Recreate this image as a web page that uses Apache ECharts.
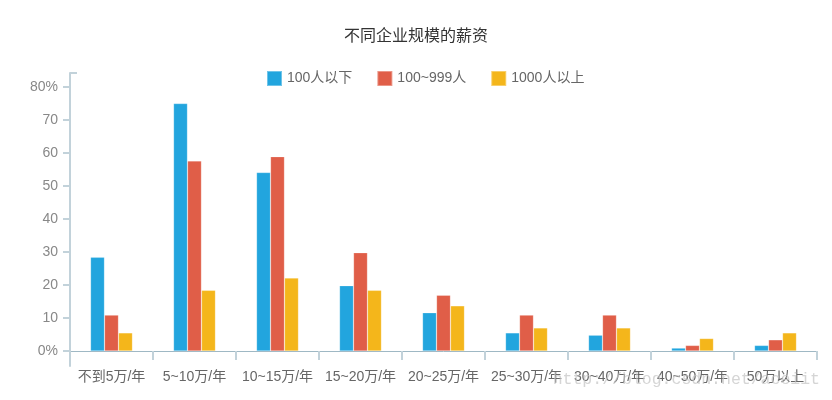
<!DOCTYPE html>
<html>
<head>
<meta charset="utf-8">
<script src="https://cdn.jsdelivr.net/npm/echarts@6/dist/echarts.min.js"></script>
<style>html,body{margin:0;padding:0;background:#fff}#c{width:832px;height:400px}</style>
</head>
<body>
<div id="c"></div>
<script>
var categories = ['不到5万/年','5~10万/年','10~15万/年','15~20万/年','20~25万/年','25~30万/年','30~40万/年','40~50万/年','50万以上'];
var seriesNames = ['100人以下','100~999人','1000人以上'];
var small = [28.4, 75, 54.1, 19.8, 11.6, 5.5, 4.8, 0.9, 1.7];
var medium = [10.9, 57.6, 58.9, 29.8, 16.9, 10.9, 10.9, 1.7, 3.4];
var large = [5.5, 18.4, 22.1, 18.4, 13.7, 7.0, 7.0, 3.8, 5.5];
var yTicks = [0, 10, 20, 30, 40, 50, 60, 70, 80];
var colors = ['#22a5de', '#e05e48', '#f4b61b'];

var chart = echarts.init(document.getElementById('c'), null, {renderer: 'canvas'});
var font = "'Liberation Sans', Arial, 'Noto Sans CJK SC', sans-serif";
function bar(name, data, color) {
  return {
    name: name, type: 'bar', data: data, barWidth: 14, barGap: '0%',
    itemStyle: {color: color, borderColor: 'rgba(255,255,255,0.35)', borderWidth: 0.6}
  };
}
chart.setOption({
  animation: false,
  color: colors,
  title: {
    text: '不同企业规模的薪资', left: 'center', top: 24,
    textStyle: {fontSize: 16, fontWeight: 'normal', color: '#333', fontFamily: font}
  },
  legend: {
    top: 65, left: 261, itemWidth: 15, itemHeight: 15, itemGap: 24,
    icon: 'rect',
    textStyle: {fontSize: 14, color: '#666', fontFamily: font},
    data: seriesNames
  },
  grid: {left: 70, right: 15, top: 73, bottom: 34, containLabel: false},
  xAxis: {
    type: 'category', data: categories,
    axisLine: {onZero: true, lineStyle: {color: '#9fb8c4', width: 1}},
    axisTick: {show: true, length: 9, lineStyle: {color: '#c2d2da', width: 2}},
    axisLabel: {fontSize: 14, color: '#666', margin: 4, fontFamily: font, interval: 0}
  },
  yAxis: [{
    type: 'value', min: -4.545, max: 84.24,
    axisLine: {show: true, lineStyle: {color: '#c2d2da', width: 2}},
    axisTick: {show: true, length: 7, customValues: yTicks, lineStyle: {color: '#c2d2da', width: 2}},
    axisLabel: {
      customValues: yTicks, fontSize: 14, color: '#888', margin: 12, fontFamily: font,
      formatter: function (v) { return (v === 0 || v === 80) ? v + '%' : String(v); }
    },
    splitLine: {show: false}
  }, {
    type: 'value', min: -4.545, max: 84.24, position: 'left',
    axisLine: {show: false},
    axisTick: {show: true, inside: true, length: 7, customValues: [84.24], lineStyle: {color: '#c2d2da', width: 2}},
    axisLabel: {show: false},
    splitLine: {show: false}
  }],
  graphic: [{
    type: 'text', right: 12, top: 371, silent: true, z: 100,
    style: {
      text: 'http://blog.csdn.net/aceiit', fill: 'rgba(195,195,195,0.7)',
      font: "16.5px 'Liberation Mono', 'DejaVu Sans Mono', monospace"
    }
  }],
  series: [bar(seriesNames[0], small, colors[0]), bar(seriesNames[1], medium, colors[1]), bar(seriesNames[2], large, colors[2])]
});
</script>
</body>
</html>
